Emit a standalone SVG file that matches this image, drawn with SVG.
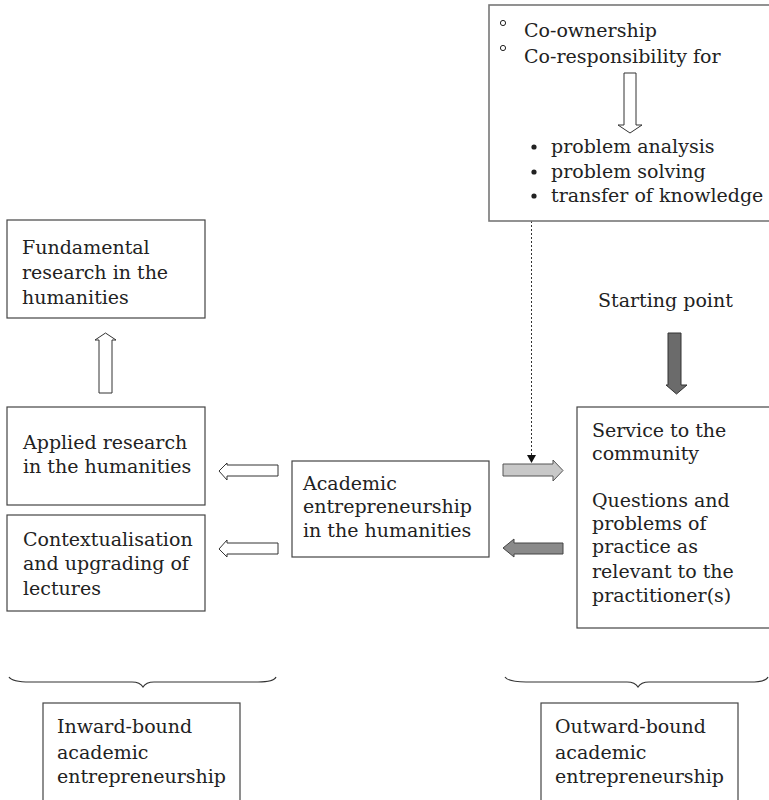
<svg xmlns="http://www.w3.org/2000/svg" width="769" height="800" viewBox="0 0 769 800">
<style>
  text { font-family: "DejaVu Serif", "Liberation Serif", serif; font-size: 19px; fill: #222; }
  .box { fill: #fff; stroke: #444; stroke-width: 1.2; }
  .boxlight { fill: #fff; stroke: #777; stroke-width: 1.6; }
  .hollow { fill: #fff; stroke: #333; stroke-width: 1; }
  .light { fill: #c8c8c8; stroke: #555; stroke-width: 1; }
  .dark { fill: #8a8a8a; stroke: #444; stroke-width: 1; }
  .darker { fill: #6b6b6b; stroke: #333; stroke-width: 1; }
  .brace { fill: none; stroke: #333; stroke-width: 1.2; }
</style>
<rect width="769" height="800" fill="#fff"/>

<g id="connectors">
  <line x1="531.5" y1="221" x2="531.5" y2="455" stroke="#333" stroke-width="1" stroke-dasharray="2,2"/>
  <polygon points="527,455 536,455 531.5,463" fill="#111"/>
  <polygon class="hollow" points="105.5,333 116,340 112,340 112,393 99,393 99,340 95,340"/>
  <polygon class="hollow" points="219,471 227,463 227,465 278,465 278,476 227,476 227,480"/>
  <polygon class="hollow" points="219,549 227,540 227,543 278,543 278,554 227,554 227,557"/>
  <polygon class="light" points="503,464 553,464 553,460 563,470.5 553,481 553,476 503,476"/>
  <polygon class="dark" points="503,548 514,539 514,543 563,543 563,554 514,554 514,557"/>
  <polygon class="darker" points="668,333 681,333 681,385 687,385 676.5,394 666,385 668,385"/>
  <path class="brace" d="M9,677 Q12,682 30,682 L132,682 Q140,682 143,687 Q146,682 154,682 L258,682 Q274,682 276,677"/>
  <path class="brace" d="M505,677 Q508,682 526,682 L627,682 Q635,682 638,687 Q641,682 649,682 L750,682 Q766,682 768,677"/>
</g>

<g id="node-top">
  <rect class="boxlight" x="489" y="5" width="290" height="216"/>
  <circle cx="503" cy="23" r="2.6" fill="none" stroke="#222" stroke-width="1"/>
  <circle cx="503" cy="48" r="2.6" fill="none" stroke="#222" stroke-width="1"/>
  <text x="524" y="37">Co-ownership</text>
  <text x="524" y="63">Co-responsibility for</text>
  <polygon class="hollow" points="624,73 636,73 636,125 642,125 630,133 618,125 624,125"/>
  <circle cx="534" cy="147" r="2.6" fill="#222"/>
  <circle cx="534" cy="172" r="2.6" fill="#222"/>
  <circle cx="534" cy="196" r="2.6" fill="#222"/>
  <text x="551" y="153">problem analysis</text>
  <text x="551" y="178">problem solving</text>
  <text x="551" y="202">transfer of knowledge</text>
</g>

<g id="node-fundamental">
  <rect class="box" x="7" y="220" width="198" height="98"/>
  <text x="22" y="254">Fundamental</text>
  <text x="22" y="279">research in the</text>
  <text x="22" y="304">humanities</text>
</g>

<g id="node-applied">
  <rect class="box" x="7" y="407" width="198" height="98"/>
  <text x="23" y="449">Applied research</text>
  <text x="23" y="473">in the humanities</text>
</g>

<g id="node-context">
  <rect class="box" x="7" y="515" width="198" height="96"/>
  <text x="23" y="546">Contextualisation</text>
  <text x="23" y="570">and upgrading of</text>
  <text x="23" y="595">lectures</text>
</g>

<g id="node-academic">
  <rect class="box" x="292" y="461" width="197" height="96"/>
  <text x="303" y="490">Academic</text>
  <text x="303" y="513">entrepreneurship</text>
  <text x="303" y="537">in the humanities</text>
</g>

<g id="node-start">
  <text x="598" y="307">Starting point</text>
</g>

<g id="node-service">
  <rect class="box" x="577" y="407" width="200" height="221"/>
  <text x="592" y="437">Service to the</text>
  <text x="592" y="460">community</text>
  <text x="592" y="507">Questions and</text>
  <text x="592" y="530">problems of</text>
  <text x="592" y="553">practice as</text>
  <text x="592" y="578">relevant to the</text>
  <text x="592" y="602">practitioner(s)</text>
</g>

<g id="node-inward">
  <rect class="box" x="43" y="703" width="197" height="110"/>
  <text x="57" y="733">Inward-bound</text>
  <text x="57" y="759">academic</text>
  <text x="57" y="783">entrepreneurship</text>
</g>

<g id="node-outward">
  <rect class="box" x="541" y="703" width="197" height="110"/>
  <text x="555" y="733">Outward-bound</text>
  <text x="555" y="759">academic</text>
  <text x="555" y="783">entrepreneurship</text>
</g>
</svg>
